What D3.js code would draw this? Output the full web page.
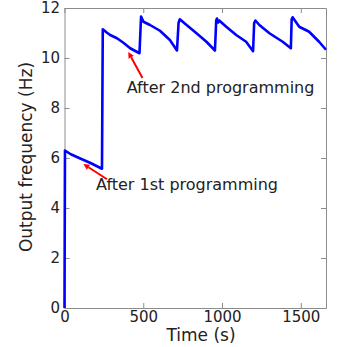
<!DOCTYPE html>
<html>
<head>
<meta charset="utf-8">
<script src="https://cdn.jsdelivr.net/npm/d3@7.9.0/dist/d3.min.js"></script>
<style>
  html, body { margin: 0; padding: 0; background: #fff; }
  svg { display: block; font-family: "DejaVu Sans", sans-serif; }
</style>
</head>
<body>
<svg id="chart" width="337" height="347"></svg>
<script>
// ---- data ----
const times = [0, 3, 40, 100, 165, 238,
  243, 270, 290, 333, 374, 417, 476,
  486, 501, 543, 606, 669, 714,
  724, 732, 775, 838, 901, 955,
  963, 968, 975, 982, 1027, 1090, 1153, 1197,
  1204, 1212, 1237, 1301, 1385, 1437,
  1442, 1448, 1490, 1553, 1616, 1660];
const freqs = [0, 6.3, 6.15, 5.98, 5.8, 5.57,
  11.15, 11.01, 10.92, 10.79, 10.61, 10.39, 10.19,
  11.66, 11.45, 11.32, 11.09, 10.72, 10.3,
  11.4, 11.55, 11.32, 10.99, 10.65, 10.3,
  11.5, 11.58, 11.42, 11.5, 11.25, 10.92, 10.65, 10.27,
  11.4, 11.5, 11.32, 10.99, 10.65, 10.39,
  11.55, 11.63, 11.25, 11.05, 10.65, 10.33];

const xTicks = [0, 500, 1000, 1500];
const yTicks = [0, 2, 4, 6, 8, 10, 12];

const notes = [
  { label: 'After 1st programming', tail: [270, 5.15], head: [120, 5.76], text: [200, 4.72] },
  { label: 'After 2nd programming', tail: [495, 9.2], head: [405, 10.24], text: [395, 8.6] },
];

// ---- layout ----
const margin = { left: 64.5, right: 11, top: 8, bottom: 39 };
const W = 337, H = 347;
const svg = d3.select('#chart');

const x = d3.scaleLinear().domain([0, 1660]).range([margin.left, W - margin.right]);
const y = d3.scaleLinear().domain([0, 12]).range([H - margin.bottom, margin.top]);

const axisColor = '#8c8c8c';
const textColor = '#222';
const fmt = d3.format('d');

// axes (inward ticks on all four sides)
const gx = svg.append('g').attr('transform', `translate(0,${y(0)})`)
  .call(d3.axisBottom(x).tickValues(xTicks).tickFormat(fmt).tickSizeInner(-5).tickSizeOuter(0).tickPadding(3));
const gxTop = svg.append('g').attr('transform', `translate(0,${y(12)})`)
  .call(d3.axisTop(x).tickValues(xTicks).tickSizeInner(-5).tickSizeOuter(0).tickFormat(''));
const gy = svg.append('g').attr('transform', `translate(${x(0)},0)`)
  .call(d3.axisLeft(y).tickValues(yTicks).tickFormat(fmt).tickSizeInner(-5).tickSizeOuter(0).tickPadding(4.5));
const gyRight = svg.append('g').attr('transform', `translate(${x(1660)},0)`)
  .call(d3.axisRight(y).tickValues(yTicks).tickSizeInner(-5).tickSizeOuter(0).tickFormat(''));

[gx, gxTop, gy, gyRight].forEach(g => {
  g.select('.domain').attr('stroke', axisColor).attr('stroke-width', 1);
  g.selectAll('.tick line').attr('stroke', axisColor);
  g.selectAll('.tick text').attr('fill', textColor).style('font-size', '15px')
    .style('font-family', '"DejaVu Sans", sans-serif');
});

// axis titles
svg.append('text')
  .attr('x', 201).attr('y', 341)
  .attr('text-anchor', 'middle')
  .attr('fill', textColor).style('font-size', '17px')
  .text('Time (s)');

svg.append('text')
  .attr('transform', `translate(32,157) rotate(-90)`)
  .attr('text-anchor', 'middle')
  .attr('fill', textColor).style('font-size', '17px')
  .text('Output frequency (Hz)');

// data line
const line = d3.line().x((d, i) => x(times[i])).y(d => y(d));
svg.append('path')
  .datum(freqs)
  .attr('d', line)
  .attr('fill', 'none')
  .attr('stroke', '#0000ff')
  .attr('stroke-width', 2.6)
  .attr('stroke-linejoin', 'round');

// annotations
notes.forEach(n => {
  const [x1, y1] = [x(n.tail[0]), y(n.tail[1])];
  const [x2, y2] = [x(n.head[0]), y(n.head[1])];
  const ang = Math.atan2(y2 - y1, x2 - x1);
  const len = 6, half = 3;
  const bx = x2 - len * Math.cos(ang), by = y2 - len * Math.sin(ang);
  svg.append('line')
    .attr('x1', x1).attr('y1', y1).attr('x2', bx).attr('y2', by)
    .attr('stroke', '#ff0000').attr('stroke-width', 2);
  svg.append('path')
    .attr('d', `M${x2},${y2}L${bx - half * Math.sin(ang)},${by + half * Math.cos(ang)}L${bx + half * Math.sin(ang)},${by - half * Math.cos(ang)}Z`)
    .attr('fill', '#ff0000');
  svg.append('text')
    .attr('x', x(n.text[0])).attr('y', y(n.text[1]))
    .attr('fill', textColor).style('font-size', '16px')
    .text(n.label);
});
</script>
</body>
</html>
